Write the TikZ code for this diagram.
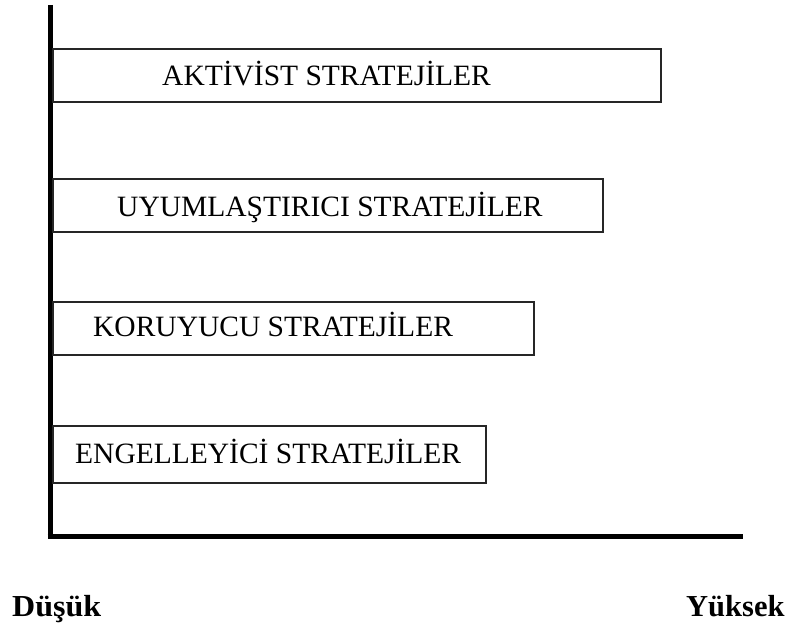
\documentclass[tikz,border=0pt]{standalone}
\usepackage{fontspec}
\setmainfont{Liberation Serif}
\begin{document}
\begin{tikzpicture}[x=1pt,y=-1pt,
  bar/.style={draw=black!85, line width=1.8pt, fill=white, inner sep=0pt,
    minimum height=53pt, anchor=north west},
  lbl/.style={inner sep=0pt, anchor=base west, font=\fontsize{29.5}{33}\selectfont},
  endlbl/.style={inner sep=0pt, anchor=base west, font=\fontsize{30.5}{34}\selectfont\bfseries},
  axis/.style={line width=5pt, black}]
\useasboundingbox (0,0) rectangle (788,628);

% axes
\coordinate (ytop) at (50,5);
\coordinate (orig) at (50,536);
\coordinate (xend) at (743,536);
\draw[axis] (ytop) -- (orig);
\draw[axis] ([xshift=-2.5pt]orig) -- (xend);

% strategy bars
\node[bar, minimum width=608pt] (b1) at (52,48) {};
\node[lbl] (t1) at (162,86) {AKTİVİST STRATEJİLER};

\node[bar, minimum width=550pt] (b2) at (52,178) {};
\node[lbl] (t2) at (117,217) {UYUMLAŞTIRICI STRATEJİLER};

\node[bar, minimum width=481pt] (b3) at (52,301) {};
\node[lbl] (t3) at (93,337) {KORUYUCU STRATEJİLER};

\node[bar, minimum width=433pt, minimum height=57pt] (b4) at (52,425) {};
\node[lbl] (t4) at (75,464) {ENGELLEYİCİ STRATEJİLER};

% scale ends
\node[endlbl, xscale=1.05] (low) at (12,616) {Düşük};
\node[endlbl] (high) at (686,616) {Yüksek};
\end{tikzpicture}
\end{document}
